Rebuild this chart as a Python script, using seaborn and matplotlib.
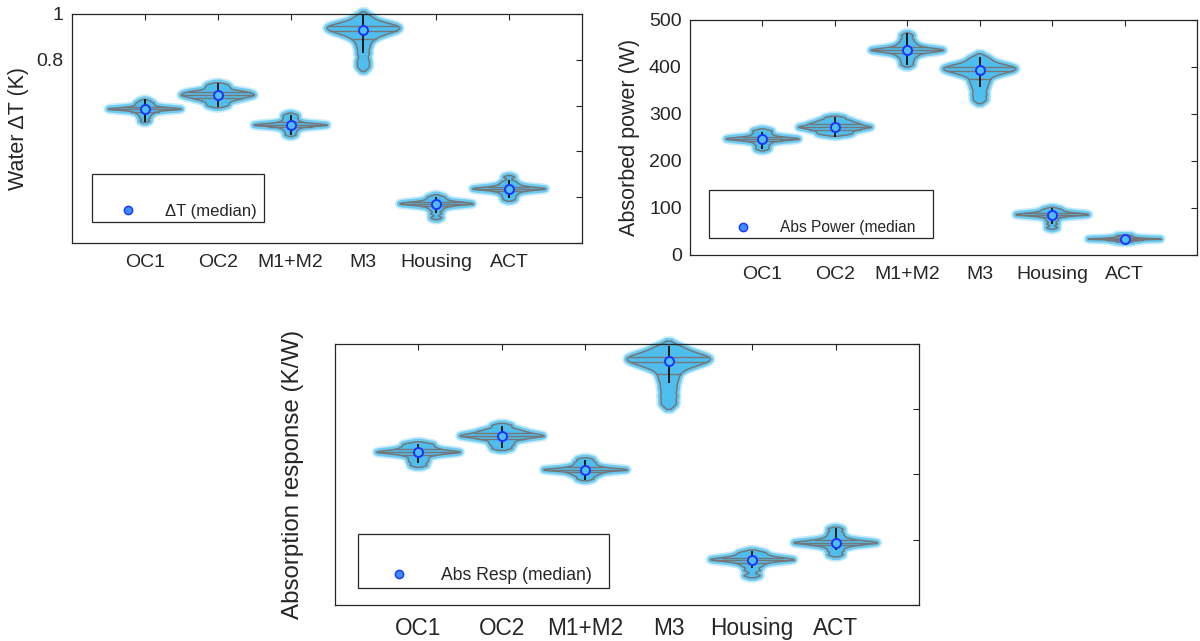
import numpy as np
import pandas as pd
import seaborn as sns
import matplotlib
matplotlib.use("Agg")
import matplotlib.pyplot as plt
import matplotlib.patheffects as pe
from matplotlib.lines import Line2D

sns.set_theme(style="white")
plt.rcParams["font.family"] = ["Liberation Sans", "DejaVu Sans"]

categories = ["OC1", "OC2", "M1+M2", "M3", "Housing", "ACT"]

# ---- Panel 1: Water dT (K) ----
dt_samples = [
    [0.532, 0.545, 0.555, 0.563, 0.569, 0.574, 0.578, 0.581, 0.583, 0.584, 0.585, 0.585, 0.586, 0.587, 0.589, 0.592, 0.596, 0.601, 0.607, 0.612, 0.620],
    [0.598, 0.607, 0.616, 0.623, 0.628, 0.632, 0.636, 0.639, 0.642, 0.645, 0.647, 0.650, 0.653, 0.656, 0.659, 0.662, 0.667, 0.675, 0.683, 0.692],
    [0.472, 0.483, 0.493, 0.500, 0.506, 0.510, 0.513, 0.514, 0.515, 0.515, 0.516, 0.517, 0.520, 0.524, 0.529, 0.536, 0.544, 0.552, 0.560],
    [0.768, 0.795, 0.827, 0.855, 0.878, 0.895, 0.906, 0.914, 0.920, 0.925, 0.930, 0.934, 0.938, 0.942, 0.946, 0.950, 0.955, 0.961, 0.973, 0.990],
    [0.110, 0.128, 0.143, 0.153, 0.160, 0.165, 0.168, 0.170, 0.171, 0.172, 0.173, 0.175, 0.178, 0.182, 0.188, 0.195, 0.203],
    [0.190, 0.201, 0.211, 0.219, 0.225, 0.230, 0.233, 0.235, 0.236, 0.237, 0.238, 0.240, 0.243, 0.247, 0.253, 0.260, 0.269, 0.287],
]
dt_median = [0.585, 0.646, 0.515, 0.930, 0.170, 0.236]
dt_low = [0.530, 0.595, 0.472, 0.828, 0.130, 0.195]
dt_high = [0.627, 0.697, 0.559, 1.000, 0.202, 0.275]
dt_ticks = [0.0, 0.2, 0.4, 0.6, 0.8, 1.0]
dt_ticklabels = ["", "", "", "", "0.8", "1"]

# ---- Panel 2: Absorbed power (W) ----
pw_samples = [
    [225, 230, 235, 239, 242, 244, 245, 246, 247, 247, 248, 249, 250, 252, 255, 258, 262, 265],
    [256, 259, 262, 265, 267, 269, 271, 272, 273, 275, 277, 279, 281, 284, 287, 292],
    [405, 413, 420, 425, 429, 432, 434, 435, 436, 436, 437, 439, 442, 446, 451, 458, 467],
    [330, 342, 354, 364, 372, 380, 385, 388, 391, 393, 395, 397, 399, 401, 403, 407, 413, 420],
    [58, 66, 73, 78, 82, 84, 85, 85.5, 86, 86.5, 87, 88, 90, 92, 95, 98],
    [28, 30, 31, 32, 33, 33.5, 34, 34.2, 34.5, 35, 36, 37, 38.5, 41],
]
pw_median = [247, 272, 436, 393, 85, 34]
pw_low = [225, 252, 404, 358, 67, 30]
pw_high = [262, 294, 472, 422, 99, 40]
pw_ticks = [0, 100, 200, 300, 400, 500]
pw_ticklabels = ["0", "100", "200", "300", "400", "500"]

# ---- Panel 3: Absorption response (K/W), axis units as drawn ----
ar_samples = [
    [2.14, 2.19, 2.23, 2.27, 2.30, 2.32, 2.33, 2.34, 2.345, 2.35, 2.36, 2.38, 2.40, 2.42, 2.45, 2.47],
    [2.40, 2.45, 2.49, 2.53, 2.55, 2.57, 2.585, 2.59, 2.60, 2.615, 2.63, 2.65, 2.67, 2.70, 2.75],
    [1.93, 1.97, 2.00, 2.02, 2.04, 2.06, 2.065, 2.07, 2.075, 2.08, 2.09, 2.11, 2.13, 2.16, 2.19, 2.23],
    [3.08, 3.20, 3.32, 3.43, 3.52, 3.60, 3.65, 3.68, 3.71, 3.73, 3.75, 3.77, 3.79, 3.81, 3.83, 3.86, 3.91, 3.96],
    [0.45, 0.53, 0.59, 0.63, 0.66, 0.68, 0.69, 0.695, 0.70, 0.71, 0.73, 0.75, 0.78, 0.81],
    [0.77, 0.83, 0.88, 0.91, 0.93, 0.945, 0.95, 0.955, 0.96, 0.97, 0.99, 1.01, 1.05, 1.10, 1.16],
]
ar_median = [2.34, 2.59, 2.07, 3.74, 0.69, 0.95]
ar_low = [2.17, 2.40, 1.92, 3.40, 0.56, 0.84]
ar_high = [2.47, 2.74, 2.22, 3.97, 0.82, 1.18]
ar_ticks = [0, 1, 2, 3, 4]
ar_ticklabels = ["", "", "", "", ""]

FILL = "#4DBEEE"
HALO = "#62c8f2"
EDGE = "#767676"
WHISK = "#1a1a1a"
MED_FACE = "#4DBEEE"
MED_EDGE = "#1b35ff"
LEG_FACE = "#3a8dff"
TXT = "#262626"


def draw_panel(ax, samples, medians, low, high, ylim, ticks, ticklabels,
               ylabel, ylabel_x, tick_fs, label_fs, xpad, ypad,
               leg_label, leg_bbox, leg_fs, leg_hl, leg_htp, leg_ls):
    cats = [c for c, s in zip(categories, samples) for _ in s]
    vals = [v for s in samples for v in s]
    df = pd.DataFrame({"category": cats, "value": vals})
    sns.violinplot(data=df, x="category", y="value", order=categories, ax=ax,
                   color=FILL, saturation=1, linecolor=EDGE, linewidth=1.1,
                   inner="quart", inner_kws=dict(color=EDGE, linewidth=1.0),
                   density_norm="width", width=1.0, cut=1.5, bw_adjust=0.4)
    for coll in ax.collections:
        coll.set_path_effects([
            pe.Stroke(linewidth=7, foreground=HALO, alpha=0.35),
            pe.Stroke(linewidth=4.5, foreground=HALO, alpha=0.9),
            pe.Normal(),
        ])
        coll.set_clip_on(False)
    for ln in ax.lines:
        ln.set_linestyle("-")
        ln.set_color(EDGE)
    ax.vlines(np.arange(len(categories)), low, high, color=WHISK,
              linewidth=1.4, zorder=4)
    sns.pointplot(x=categories, y=medians, order=categories, ax=ax,
                  markers="o", linestyle="none", errorbar=None,
                  color=MED_EDGE, markersize=6.5, markeredgewidth=1.4,
                  markerfacecolor=MED_FACE, zorder=5)
    ax.set_xlim(-1, 6)
    ax.set_ylim(*ylim)
    ax.set_yticks(ticks)
    ax.set_yticklabels(ticklabels)
    ax.set_xlabel("")
    ax.set_ylabel(ylabel, fontsize=label_fs, color=TXT)
    ax.yaxis.set_label_coords(ylabel_x, 0.5)
    ax.tick_params(axis="both", direction="in", length=4, width=0.8,
                   colors=TXT, top=True, right=True)
    ax.tick_params(axis="x", labelsize=tick_fs, pad=xpad)
    ax.tick_params(axis="y", labelsize=tick_fs, pad=ypad)
    for sp in ax.spines.values():
        sp.set_visible(True)
        sp.set_color(TXT)
        sp.set_linewidth(0.9)
    blank = Line2D([], [], linestyle="none")
    mark = Line2D([], [], linestyle="none", marker="o", markersize=6,
                  markerfacecolor=LEG_FACE, markeredgecolor=MED_EDGE,
                  markeredgewidth=1.0)
    leg = ax.legend(handles=[blank, mark], labels=[" ", leg_label],
                    loc="lower left", bbox_to_anchor=leg_bbox, mode="expand",
                    borderaxespad=0, fancybox=False, framealpha=1,
                    edgecolor=TXT, fontsize=leg_fs, handlelength=leg_hl,
                    handletextpad=leg_htp, borderpad=0.2,
                    labelspacing=leg_ls)
    leg.get_frame().set_linewidth(0.9)
    for t in leg.get_texts():
        t.set_color(TXT)


fig = plt.figure(figsize=(12, 6.41), dpi=100)
ax1 = fig.add_axes([0.060, 0.6209, 0.425, 0.3573])
ax2 = fig.add_axes([0.575, 0.6022, 0.4225, 0.3666])
ax3 = fig.add_axes([0.2792, 0.0562, 0.4867, 0.4072])

draw_panel(ax1, dt_samples, dt_median, dt_low, dt_high, (0, 1), dt_ticks,
           dt_ticklabels, "Water \u0394T (K)", -0.084, 14, 15.5, 8, 6,
           "\u0394T (median)", (0.039, 0.092, 0.337, 0.208), 12, 3.9, 0.27, 0.7)
draw_panel(ax2, pw_samples, pw_median, pw_low, pw_high, (0, 500), pw_ticks,
           pw_ticklabels, "Absorbed power (W)", -0.098, 14, 15.5, 8, 6,
           "Abs Power (median", (0.037, 0.072, 0.443, 0.205), 11.2, 4.0, 0.35, 0.75)
draw_panel(ax3, ar_samples, ar_median, ar_low, ar_high, (0, 4), ar_ticks,
           ar_ticklabels, "Absorption response (K/W)", -0.053, 16.3, 17.4, 9, 6,
           "Abs Resp (median)", (0.039, 0.065, 0.43, 0.211), 12.7, 4.3, 0.2, 0.75)

fig.savefig("out.png", dpi=100)
